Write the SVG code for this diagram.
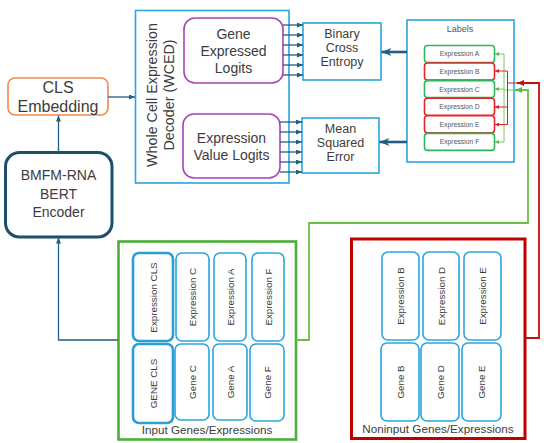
<svg xmlns="http://www.w3.org/2000/svg" width="544" height="443" viewBox="0 0 544 443">
<defs>
<style>
text{font-family:"Liberation Sans",Arial,sans-serif;fill:#3c3c3c;text-anchor:middle}
.blue{fill:#fff;stroke:#2aa6dd;stroke-width:1.6}
.bthick{fill:#fff;stroke:#2a9fd6;stroke-width:2.6}
.purple{fill:#fff;stroke:#a942b8;stroke-width:1.6}
.gbox{fill:#fff;stroke:#2fb55a;stroke-width:1.6}
.rbox{fill:#fff;stroke:#e3262b;stroke-width:1.6}
.arr{fill:none;stroke:#1e5f82;stroke-width:1.3}
.big{font-size:14px}
.med{font-size:12.5px}
.cell{font-size:9.8px}
.row{font-size:6.8px;fill:#555}
</style>
<marker id="ah" markerUnits="userSpaceOnUse" markerWidth="6" markerHeight="5" refX="6" refY="2.5" orient="auto"><path d="M0,0 L6,2.5 L0,5 z" fill="#1e5f82"/></marker>
<marker id="ahB" markerUnits="userSpaceOnUse" markerWidth="10" markerHeight="8" refX="10" refY="4" orient="auto"><path d="M0,0 L10,4 L0,8 L3,4 z" fill="#1e5f82"/></marker>
<marker id="ahG" markerUnits="userSpaceOnUse" markerWidth="4" markerHeight="4" refX="4" refY="2" orient="auto"><path d="M0,0 L4,2 L0,4 z" fill="#5cb84a"/></marker>
<marker id="ahR" markerUnits="userSpaceOnUse" markerWidth="4" markerHeight="4" refX="4" refY="2" orient="auto"><path d="M0,0 L4,2 L0,4 z" fill="#d42020"/></marker>
<marker id="ahG2" markerUnits="userSpaceOnUse" markerWidth="7" markerHeight="6" refX="7" refY="3" orient="auto"><path d="M0,0 L7,3 L0,6 z" fill="#5cb84a"/></marker>
<marker id="ahR2" markerUnits="userSpaceOnUse" markerWidth="7" markerHeight="6" refX="7" refY="3" orient="auto"><path d="M0,0 L7,3 L0,6 z" fill="#c01010"/></marker>
</defs>
<rect width="544" height="443" fill="#fff"/>

<g id="wced">
<rect x="135.5" y="10.5" width="153.5" height="172.5" fill="#fff" stroke="#2aa6dd" stroke-width="1.6"/>
<text class="big" style="font-size:14.3px" transform="translate(157,95) rotate(-90)">Whole Cell Expression</text>
<text class="big" style="font-size:14.3px" transform="translate(174,95) rotate(-90)">Decoder (WCED)</text>
</g>
<g id="gene-logits">
<rect class="purple" x="184" y="18" width="99" height="65" rx="11"/>
<text class="big" x="233.5" y="39">Gene</text>
<text class="big" x="233.5" y="56">Expressed</text>
<text class="big" x="233.5" y="73">Logits</text>
</g>
<g id="value-logits">
<rect class="purple" x="183" y="114" width="97" height="64" rx="11"/>
<text class="big" x="231.5" y="143">Expression</text>
<text class="big" x="231.5" y="160">Value Logits</text>
</g>
<g id="cls">
<rect x="8" y="78" width="100" height="37" rx="7" fill="#fff" stroke="#f08a4b" stroke-width="1.6"/>
<text style="font-size:16px" x="58" y="92.5">CLS</text>
<text style="font-size:16px" x="58" y="112.3">Embedding</text>
</g>
<g id="bmfm">
<rect x="5.5" y="152.5" width="106.5" height="84.5" rx="14" fill="#fff" stroke="#1c4f6c" stroke-width="3"/>
<text class="big" x="58.5" y="180">BMFM-RNA</text>
<text class="big" x="58.5" y="198.7">BERT</text>
<text class="big" x="58.5" y="217.3">Encoder</text>
</g>
<g id="bce">
<rect class="blue" x="303" y="23" width="78" height="57"/>
<text class="med" x="342" y="37.7">Binary</text>
<text class="med" x="342" y="52">Cross</text>
<text class="med" x="342" y="66.3">Entropy</text>
</g>
<g id="mse">
<rect class="blue" x="302" y="118" width="77" height="55"/>
<text class="med" x="340.5" y="132.7">Mean</text>
<text class="med" x="340.5" y="147">Squared</text>
<text class="med" x="340.5" y="161.3">Error</text>
</g>
<g id="labels">
<rect class="blue" x="407" y="20" width="107" height="142"/>
<text x="460" y="32.3" style="font-size:9px;fill:#555">Labels</text>
<rect class="gbox" x="424.5" y="45.5" width="70" height="17" rx="3"/>
<text class="row" x="459.5" y="56.4">Expression A</text>
<rect class="rbox" x="424.5" y="63" width="70" height="17" rx="3"/>
<text class="row" x="459.5" y="74">Expression B</text>
<rect class="gbox" x="424.5" y="80.6" width="70" height="17" rx="3"/>
<text class="row" x="459.5" y="91.6">Expression C</text>
<rect class="rbox" x="424.5" y="98.2" width="70" height="17" rx="3"/>
<text class="row" x="459.5" y="109.2">Expression D</text>
<rect class="rbox" x="424.5" y="115.8" width="70" height="17" rx="3"/>
<text class="row" x="459.5" y="126.8">Expression E</text>
<rect class="gbox" x="424.5" y="133.4" width="70" height="17" rx="3"/>
<text class="row" x="459.5" y="144.4">Expression F</text>
</g>

<g id="input">
<rect x="118.5" y="241.5" width="177.5" height="198" fill="#fff" stroke="#4caf3a" stroke-width="2.6"/>
<rect class="bthick" x="133" y="253" width="40" height="88" rx="6"/>
<text class="cell" transform="translate(156.5,297.5) rotate(-90)">Expression CLS</text>
<rect class="bthick" x="133" y="344" width="40" height="79" rx="6"/>
<text class="cell" transform="translate(156.5,383.5) rotate(-90)">GENE CLS</text>
<rect class="blue" x="176" y="253" width="33" height="88" rx="6"/>
<text class="cell" transform="translate(196,297) rotate(-90)">Expression C</text>
<rect class="blue" x="175" y="344" width="34" height="76" rx="6"/>
<text class="cell" transform="translate(195.5,382) rotate(-90)">Gene C</text>
<rect class="blue" x="214" y="253" width="32" height="88" rx="6"/>
<text class="cell" transform="translate(233.5,297) rotate(-90)">Expression A</text>
<rect class="blue" x="213" y="344" width="34" height="76" rx="6"/>
<text class="cell" transform="translate(233.5,382) rotate(-90)">Gene A</text>
<rect class="blue" x="252" y="253" width="32" height="88" rx="6"/>
<text class="cell" transform="translate(271.5,297) rotate(-90)">Expression F</text>
<rect class="blue" x="250" y="344" width="34" height="77" rx="6"/>
<text class="cell" transform="translate(270.5,382.5) rotate(-90)">Gene F</text>
<text x="207" y="434" style="font-size:11.7px">Input Genes/Expressions</text>
</g>

<g id="noninput">
<rect x="351.5" y="239" width="173.5" height="199.5" fill="#fff" stroke="#c00000" stroke-width="3"/>
<rect class="blue" x="382" y="252" width="37" height="88" rx="6"/>
<text class="cell" transform="translate(404,296) rotate(-90)">Expression B</text>
<rect class="blue" x="423" y="252" width="36" height="88" rx="6"/>
<text class="cell" transform="translate(444.5,296) rotate(-90)">Expression D</text>
<rect class="blue" x="464" y="252" width="37" height="88" rx="6"/>
<text class="cell" transform="translate(486,296) rotate(-90)">Expression E</text>
<rect class="blue" x="381" y="343" width="38" height="78" rx="6"/>
<text class="cell" transform="translate(403.5,382) rotate(-90)">Gene B</text>
<rect class="blue" x="421" y="343" width="38" height="78" rx="6"/>
<text class="cell" transform="translate(443.5,382) rotate(-90)">Gene D</text>
<rect class="blue" x="462" y="343" width="39" height="78" rx="6"/>
<text class="cell" transform="translate(485,382) rotate(-90)">Gene E</text>
<text x="438" y="432.7" style="font-size:11.7px">Noninput Genes/Expressions</text>
</g>

<g id="connectors">
<path class="arr" d="M108,97 H135" marker-end="url(#ah)"/>
<path class="arr" d="M58.5,152 V115.5" marker-end="url(#ah)"/>
<path class="arr" d="M118,340 H58.5 V237.5" marker-end="url(#ah)"/>
<path class="arr" d="M283,25 H303" marker-end="url(#ah)"/>
<path class="arr" d="M283,35 H303" marker-end="url(#ah)"/>
<path class="arr" d="M283,45 H303" marker-end="url(#ah)"/>
<path class="arr" d="M283,55 H303" marker-end="url(#ah)"/>
<path class="arr" d="M283,65 H303" marker-end="url(#ah)"/>
<path class="arr" d="M283,75 H303" marker-end="url(#ah)"/>
<path class="arr" d="M280,122 H302" marker-end="url(#ah)"/>
<path class="arr" d="M280,132 H302" marker-end="url(#ah)"/>
<path class="arr" d="M280,142 H302" marker-end="url(#ah)"/>
<path class="arr" d="M280,152 H302" marker-end="url(#ah)"/>
<path class="arr" d="M280,162 H302" marker-end="url(#ah)"/>
<path class="arr" d="M280,172 H302" marker-end="url(#ah)"/>
<path d="M407,52 H381.5" fill="none" stroke="#1e5f82" stroke-width="2.6" marker-end="url(#ahB)"/>
<path d="M407,142 H379.5" fill="none" stroke="#1e5f82" stroke-width="2.6" marker-end="url(#ahB)"/>
<g fill="none" stroke="#7cc860" stroke-width="1">
<path d="M504,54 V142"/>
<path d="M516,90 H504"/>
<path d="M504,54 H495" marker-end="url(#ahG)"/>
<path d="M504,89 H495" marker-end="url(#ahG)"/>
<path d="M504,142 H495" marker-end="url(#ahG)"/>
</g>
<g fill="none" stroke="#d42020" stroke-width="1">
<path d="M507.5,71 V124.5"/>
<path d="M518,83 H507.5"/>
<path d="M507.5,71 H495" marker-end="url(#ahR)"/>
<path d="M507.5,107 H495" marker-end="url(#ahR)"/>
<path d="M507.5,124.5 H495" marker-end="url(#ahR)"/>
</g>
<path d="M296,340 H309 V223 H528 V90 H515" fill="none" stroke="#6abf4b" stroke-width="1.8" marker-end="url(#ahG2)"/>
<path d="M525,338 H539 V83 H517" fill="none" stroke="#c01010" stroke-width="1.8" marker-end="url(#ahR2)"/>
</g>
</svg>
